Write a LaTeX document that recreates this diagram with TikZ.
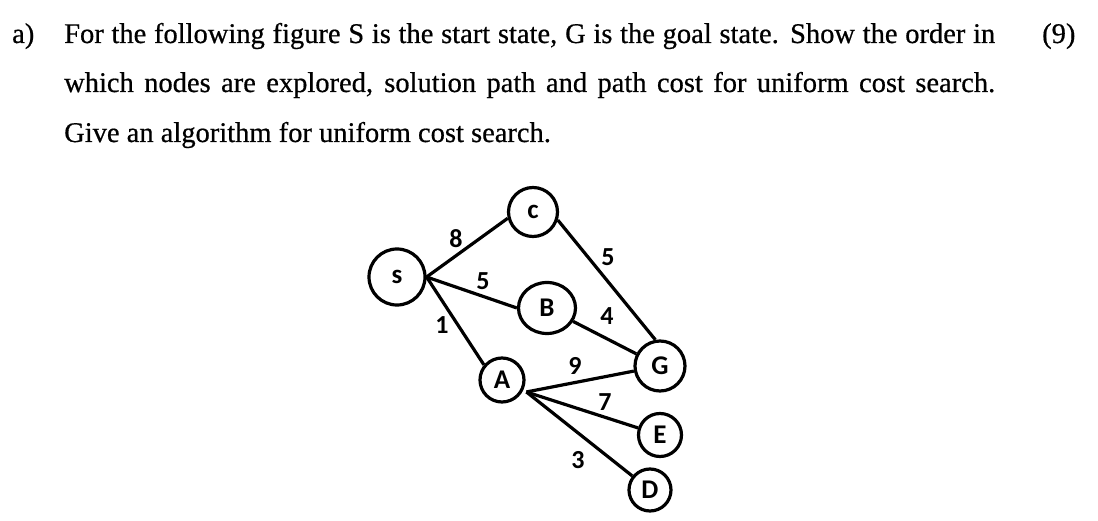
\documentclass[tikz,border=0pt]{standalone}
\usepackage{fontspec}
\usetikzlibrary{shapes.geometric}
\setmainfont{Liberation Serif}
\newfontfamily\qfont{Liberation Serif}[FakeBold=0.6]
\newfontfamily\calib{Carlito}
\begin{document}
\begin{tikzpicture}[x=1pt,y=-1pt,
  stnode/.style={circle,draw,line width=3.2pt,inner sep=0pt,font=\calib\bfseries\fontsize{27}{27}\selectfont},
  edge/.style={line width=3.2pt},
  wt/.style={font=\calib\bfseries\fontsize{26}{26}\selectfont,inner sep=0pt},
  qtext/.style={anchor=base west,inner sep=0pt,font=\qfont\fontsize{28.5}{28.5}\selectfont}]
\useasboundingbox (0,0) rectangle (1098,521);
% question text
\node[qtext] (qa) at (12,43) {a)};
\node[qtext] (q1) at (64,43) {\makebox[931pt][s]{For the following figure S is the start state, G is the goal state. Show the order in}};
\node[qtext] (q9) at (1042,43) {(9)};
\node[qtext] (q2) at (64,92) {\makebox[931pt][s]{which nodes are explored, solution path and path cost for uniform cost search.}};
\node[qtext] (q3) at (64,142) {Give an algorithm for uniform cost search.};
% graph nodes
\node[stnode,minimum size=56pt] (S) at (397,277) {s};
\node[stnode,minimum size=49pt] (C) at (533,212) {c};
\node[stnode,ellipse,minimum width=57pt,minimum height=51pt] (B) at (547,308) {B};
\node[stnode,minimum size=44pt] (A) at (502,380) {A};
\node[stnode,minimum size=50pt] (G) at (660,366) {G};
\node[stnode,minimum size=43pt] (E) at (660,435) {E};
\node[stnode,minimum size=42pt] (D) at (650,490) {D};
\coordinate (Sx) at (S.east);
\coordinate (Ax) at ([shift={(3,2)}]A.-25);
% edges
\draw[edge] (Sx) -- (C.194);
\draw[edge] (Sx) -- (B.west);
\draw[edge] (Sx) -- (A.140);
\draw[edge] (C.-18) -- (G.100);
\draw[edge] (B) -- (G);
\draw[edge] (Ax) -- (G);
\draw[edge] (Ax) -- (E);
\draw[edge] (Ax) -- (D);
% weights
\node[wt] (w8) at (456,239) {8};
\node[wt] (w5a) at (483,281) {5};
\node[wt] (w1) at (442,325) {1};
\node[wt] (w5b) at (608,257) {5};
\node[wt] (w4) at (607,316) {4};
\node[wt] (w9) at (575,366) {9};
\node[wt] (w7) at (605,402) {7};
\node[wt] (w3) at (578,460) {3};
\end{tikzpicture}
\end{document}
